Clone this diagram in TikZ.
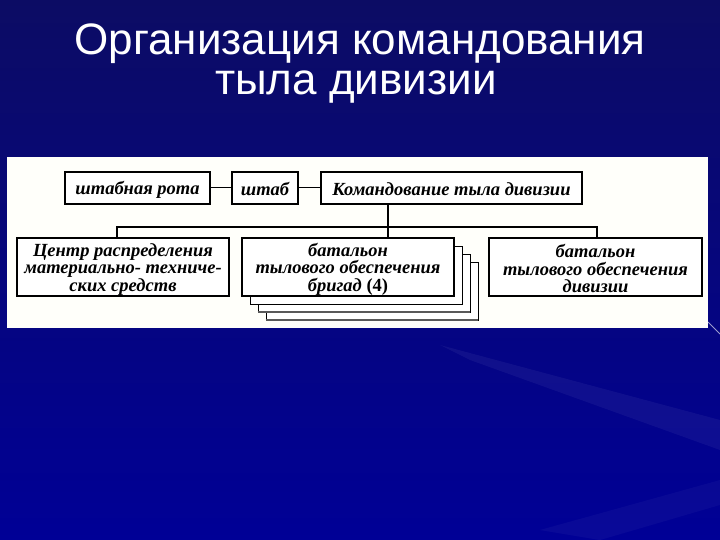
\documentclass[tikz,border=0pt]{standalone}
\usepackage{fontspec}
\setmainfont{Liberation Serif}
\newfontfamily\titlefont{Liberation Sans}
\definecolor{bgtop}{RGB}{12,12,100}
\definecolor{bgbot}{RGB}{0,0,150}
\definecolor{panel}{RGB}{255,255,250}
\newcommand\boxstrut{\rule{0pt}{17pt}}
\newcommand\topstrut{\rule{0pt}{16pt}}
\begin{document}
\begin{tikzpicture}[x=1pt,y=-1pt,
  box/.style={draw=black,line width=1.1pt,fill=white,rectangle,inner sep=0pt,
    align=center,font=\fontsize{18.5}{17.5}\selectfont\bfseries\itshape},
  thin/.style={line width=1pt},
  thick2/.style={line width=2pt},
  ttl/.style={font=\titlefont\fontsize{44}{44}\selectfont,text=white,anchor=base,inner sep=0pt}]
\useasboundingbox (0,0) rectangle (720,540);
% background
\shade[top color=bgtop,bottom color=bgbot] (0,0) rectangle (720,540);
\fill[white,opacity=0.05] (440,345) -- (720,420) -- (720,450) -- (470,360) -- cycle;
\fill[white,opacity=0.035] (540,530) -- (720,480) -- (720,505) -- (600,540) -- cycle;
% title
\node[ttl] (title1) at (360,55) {Организация командования};
\node[ttl] (title2) at (356,95) {тыла дивизии};
% panel
\fill[panel] (7,157) rectangle (708,328);
\draw[white,opacity=0.6,line width=1pt] (708,322) -- (720,334);
% top row
\node[box,minimum width=145pt,minimum height=32pt] (rota) at (137.5,188) {\topstrut штабная рота};
\node[box,minimum width=66pt,minimum height=32pt] (shtab) at (265,188) {\topstrut штаб};
\node[box,minimum width=261pt,minimum height=32pt] (kom) at (451.5,188) {\topstrut Командование тыла дивизии};
\draw[thin] (rota) -- (shtab);
\draw[thin] (shtab) -- (kom);
% stacked boxes behind
\node[box,line width=0.9pt,minimum width=212pt,minimum height=58pt] (bat4) at (372,291) {};
\draw[gray!70!black,line width=2pt] (bat4.south west) -- (bat4.south east);
\node[box,line width=0.9pt,minimum width=212pt,minimum height=58pt] (bat3) at (364,283) {};
\draw[gray!70!black,line width=2pt] (bat3.south west) -- (bat3.south east);
\node[box,line width=0.9pt,minimum width=212pt,minimum height=58pt] (bat2) at (356,275) {};
% bottom row
\node[box,minimum width=212pt,minimum height=58pt] (centr) at (123,267)
  {\boxstrut Центр распределения\\материально- техниче-\\ских средств};
\node[box,minimum width=212pt,minimum height=58pt] (bat) at (348,267)
  {\boxstrut батальон\\тылового обеспечения\\бригад \textup{(4)}};
\node[box,minimum width=213pt,minimum height=58pt] (batdiv) at (595.5,267)
  {\boxstrut батальон\\тылового обеспечения\\дивизии};
% connectors
\coordinate (busM) at (388,227);
\coordinate (busL) at (117,227);
\coordinate (busR) at (597,227);
\draw[thick2] (busM |- kom.south) -- (busM |- bat.north);
\draw[thick2] (busL |- centr.north) -- (busL) -- (busR) -- (busR |- batdiv.north);
\end{tikzpicture}
\end{document}
